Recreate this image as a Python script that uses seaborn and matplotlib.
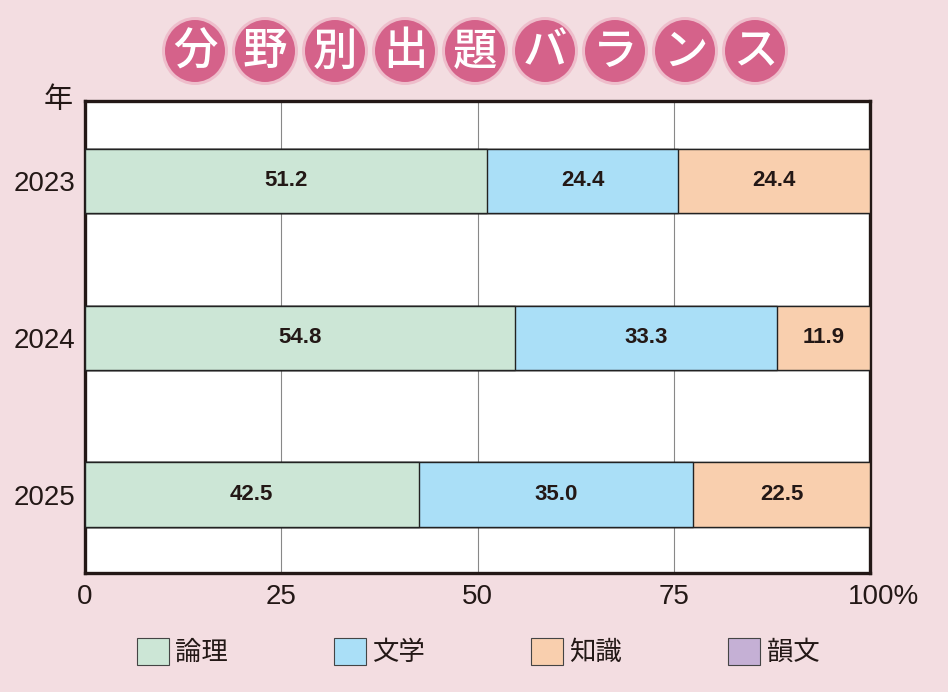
import matplotlib
matplotlib.use("Agg")
import matplotlib.pyplot as plt
import matplotlib.transforms as mtransforms
from matplotlib.patches import Ellipse, Patch
import pandas as pd
import seaborn as sns

# Data
years = ["2023", "2024", "2025"]
ronri = [51.2, 54.8, 42.5]      # 論理
bungaku = [24.4, 33.3, 35.0]    # 文学
chishiki = [24.4, 11.9, 22.5]   # 知識
inbun = [0.0, 0.0, 0.0]         # 韻文

categories = ["論理", "文学", "知識", "韻文"]
colors = ["#cce6d6", "#aadff7", "#f9cfae", "#c5b0d5"]
x_ticks = [0, 25, 50, 75, 100]
x_tick_labels = ["0", "25", "50", "75", "100%"]
title_chars = list("分野別出題バランス")

BG = "#f3dde1"
INK = "#231816"
NUM_FONT = ["Liberation Sans", "DejaVu Sans"]
JP_FONT = ["Noto Sans CJK JP", "DejaVu Sans"]


def main() -> None:
    sns.set_theme(style="white")
    plt.rcParams["font.family"] = NUM_FONT

    df = pd.DataFrame({
        "year": years,
        "ronri": ronri,
        "bungaku": bungaku,
        "chishiki": chishiki,
        "inbun": inbun,
    })
    df["c1"] = df["ronri"]
    df["c2"] = df["c1"] + df["bungaku"]
    df["c3"] = df["c2"] + df["chishiki"]
    df["c4"] = df["c3"] + df["inbun"]

    fig = plt.figure(figsize=(9.48, 6.92), dpi=100, facecolor=BG)
    ax = fig.add_axes([85 / 948, 1 - 573 / 692, 785 / 948, 472 / 692])
    ax.set_facecolor("white")

    # Stacked bars drawn back to front from cumulative totals
    for col, color in zip(["c4", "c3", "c2", "c1"], colors[::-1]):
        sns.barplot(
            data=df, x=col, y="year", orient="h", color=color,
            width=0.41, edgecolor="#222222", linewidth=1.0, saturation=1,
            ax=ax, zorder=3,
        )

    # Segment labels
    for i in range(len(years)):
        left = 0.0
        for vals in (ronri, bungaku, chishiki, inbun):
            v = vals[i]
            if v > 0:
                ax.text(left + v / 2, i, f"{v:.1f}", ha="center", va="center",
                        fontsize=16, fontweight="bold", color=INK,
                        family=NUM_FONT, zorder=4)
            left += v

    ax.set_xlim(0, 100)
    ax.set_ylim(2.5, -0.51)
    ax.set_xticks(x_ticks)
    ax.set_xticklabels(x_tick_labels)
    ax.xaxis.grid(True, color="#888888", linewidth=0.8, zorder=0)
    ax.set_axisbelow(True)
    ax.set_xlabel("")
    ax.set_ylabel("")
    ax.tick_params(axis="both", length=0, labelsize=20, colors=INK)
    ax.tick_params(axis="y", pad=7)
    ax.tick_params(axis="x", pad=8)
    for spine in ax.spines.values():
        spine.set_visible(True)
        spine.set_color(INK)
        spine.set_linewidth(2.4)

    # Shift "100%" so that "100" sits under the tick
    labels = ax.get_xticklabels()
    offset = mtransforms.ScaledTranslation(14 / 100, 0, fig.dpi_scale_trans)
    labels[-1].set_transform(labels[-1].get_transform() + offset)

    # Y axis unit
    fig.text(58 / 948, 1 - 100 / 692, "年", ha="center", va="center",
             fontsize=21, family=JP_FONT, color=INK)

    # Title in pink circles
    for i, ch in enumerate(title_chars):
        cx = (195 + 70 * i) / 948
        cy = 1 - 51 / 692
        fig.patches.append(Ellipse((cx, cy), 66 / 948, 68 / 692,
                                   transform=fig.transFigure,
                                   facecolor="#eebdcb", edgecolor="none"))
        fig.patches.append(Ellipse((cx, cy), 60 / 948, 62 / 692,
                                   transform=fig.transFigure,
                                   facecolor="#d5628a", edgecolor="none"))
        fig.text(cx, cy - 1 / 692, ch, ha="center", va="center", fontsize=32,
                 fontweight="medium", family=JP_FONT, color="white")

    # Legend
    handles = [Patch(facecolor=c, edgecolor="#444444", linewidth=0.8)
               for c in colors]
    fig.legend(
        handles, categories, loc="center", ncol=4,
        bbox_to_anchor=(478 / 948, 1 - 652 / 692),
        frameon=False, prop={"family": JP_FONT, "size": 19},
        handlelength=1.22, handleheight=1.2, handletextpad=0.25,
        columnspacing=4.0, labelcolor=INK,
    )

    fig.savefig("out.png", dpi=100, facecolor=BG)
    plt.close(fig)


if __name__ == "__main__":
    main()
